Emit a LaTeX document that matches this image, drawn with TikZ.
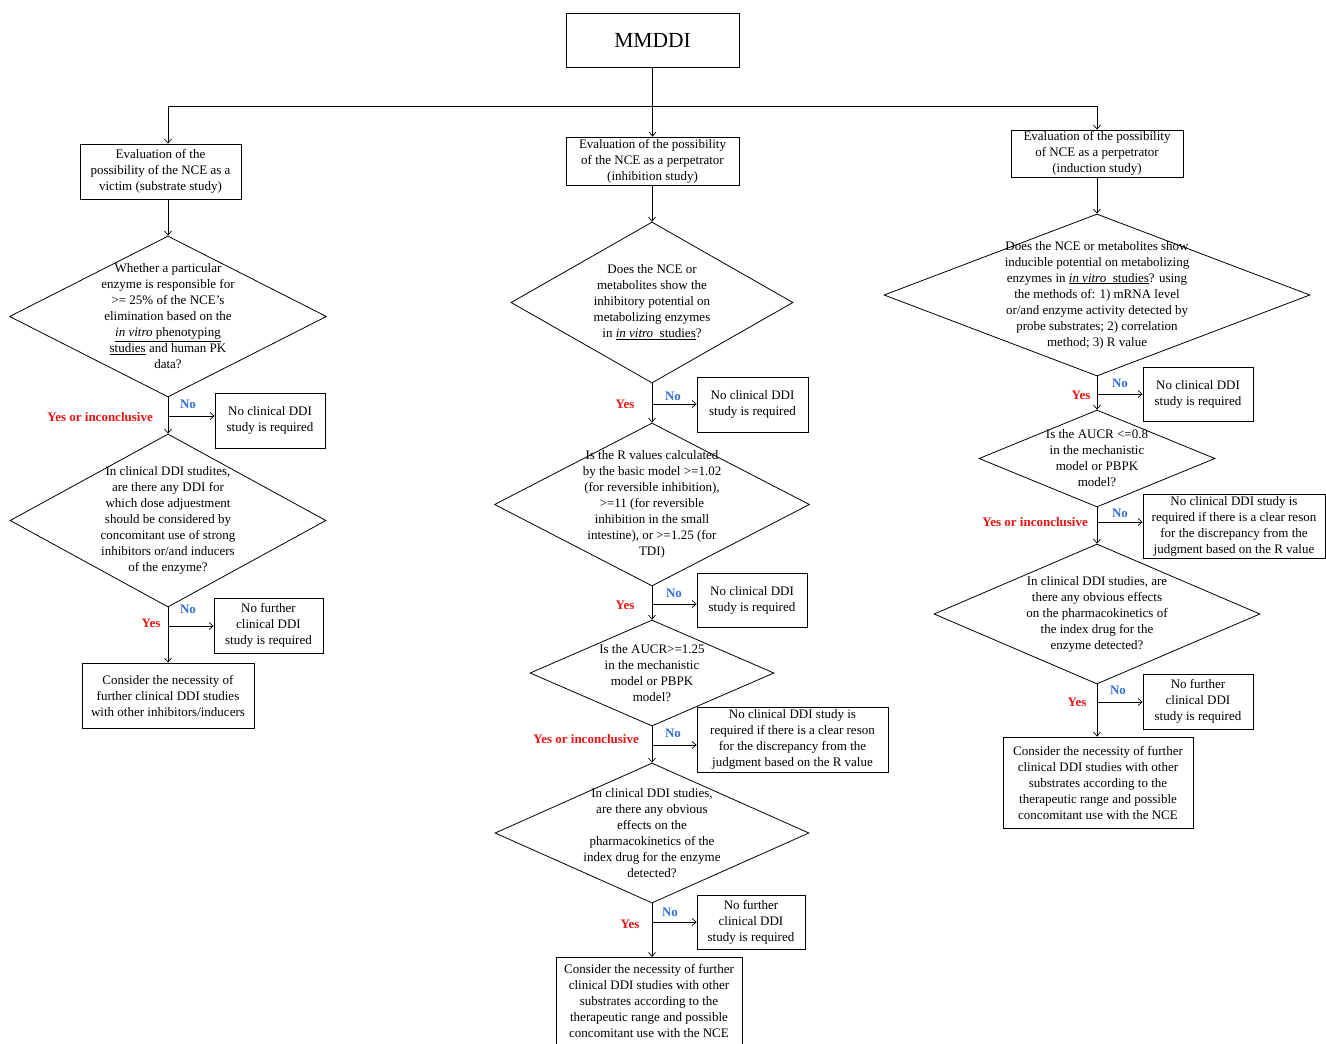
\documentclass[tikz,border=0pt]{standalone}
\usepackage{fontspec}
\setmainfont{Liberation Serif}
\usetikzlibrary{shapes.geometric,arrows.meta,calc}
\definecolor{noblue}{RGB}{50,110,210}
\definecolor{yesred}{RGB}{235,20,20}
\newcommand\txtsz{\fontsize{13}{16}\selectfont}
\begin{document}
\begin{tikzpicture}[x=1pt,y=-1pt,
  box/.style={draw,line width=0.8pt,inner sep=0pt,align=center,font=\txtsz},
  dia/.style={draw,diamond,line width=0.8pt,inner sep=0pt,aspect=1},
  dtxt/.style={align=center,font=\txtsz,inner sep=0pt},
  arr/.style={line width=0.7pt,-{Straight Barb[length=4pt,width=7pt]}},
  ln/.style={line width=0.7pt},
  nolab/.style={text=noblue,font=\bfseries\txtsz,inner sep=0pt},
  yeslab/.style={text=yesred,font=\bfseries\txtsz,inner sep=0pt}]
\useasboundingbox (0,0) rectangle (1326,1044);

% top
\node[box,minimum width=173pt,minimum height=54pt,font=\fontsize{21.5}{24}\selectfont] (top) at (652.5,40) {MMDDI};
\node[box,minimum width=161pt,minimum height=55pt] (A1) at (160.5,171.5) {Evaluation of the\\possibility of the NCE as a\\victim (substrate study)};
\node[box,minimum width=173pt,minimum height=48pt] (B1) at (652.5,161) {Evaluation of the possibility\\of the NCE as a perpetrator\\(inhibition study)};
\node[box,minimum width=172pt,minimum height=47pt] (C1) at (1097,153.5) {Evaluation of the possibility\\of NCE as a perpetrator\\(induction study)};

\coordinate (hl) at (168,106);
\coordinate (hr) at (1097,106);
\draw[ln] (hl) -- (hr);
\draw[arr] (top.south) -- (B1.north);
\draw[arr] (hl) -- (hl |- A1.north);
\draw[arr] (hr) -- (C1.north);

% left column
\node[dia,minimum width=317pt,minimum height=161pt] (D1) at (168,316.5) {};
\node[dtxt] at (D1) {Whether a particular\\enzyme is responsible for\\>= 25\% of the NCE’s\\elimination based on the\\\underline{\textit{in vitro} phenotyping}\\\underline{studies} and human PK\\data?};
\node[dia,minimum width=316pt,minimum height=173pt] (D2) at (168,520.5) {};
\node[dtxt] at (D2) {In clinical DDI studites,\\are there any DDI for\\which dose adjuestment\\should be considered by\\concomitant use of strong\\inhibitors or/and inducers\\of the enzyme?};
\node[box,minimum width=110pt,minimum height=55pt] (N1) at (270,420.5) {No clinical DDI\\study is required};
\node[box,minimum width=109pt,minimum height=55pt] (N2) at (268.5,625.5) {No further\\clinical DDI\\study is required};
\node[box,minimum width=172pt,minimum height=65pt] (F1) at (168,695.5) {Consider the necessity of\\further clinical DDI studies\\with other inhibitors/inducers};

\draw[arr] (D1.north |- A1.south) -- (D1.north);
\draw[arr] (D1.south) -- (D2.north);
\draw[arr] (D2.south) -- (F1.north);
\coordinate (bl1) at (168,416);
\coordinate (bl2) at (168,626);
\draw[arr] (bl1) -- (bl1 -| N1.west);
\draw[arr] (bl2) -- (bl2 -| N2.west);
\node[nolab] (nl1) at (188,404) {No};
\node[yeslab,anchor=east] (yl1) at (153,417) {Yes or inconclusive};
\node[nolab] (nl2) at (188,609) {No};
\node[yeslab] (yl2) at (151,623) {Yes};

% middle column
\node[dia,minimum width=282pt,minimum height=161pt] (M1) at (652,302.5) {};
\node[dtxt] at (M1) {Does the NCE or\\metabolites show the\\inhibitory potential on\\metabolizing enzymes\\in \underline{\textit{in vitro}~ studies}?};
\node[dia,minimum width=315pt,minimum height=163pt] (M2) at (652,504.5) {};
\node[dtxt] at (M2) {Is the R values calculated\\by the basic model >=1.02\\(for reversible inhibition),\\>=11 (for reversible\\inhibition in the small\\intestine), or >=1.25 (for\\TDI)};
\node[dia,minimum width=244pt,minimum height=106pt] (M3) at (652,673) {};
\node[dtxt] at (M3) {Is the AUCR>=1.25\\in the mechanistic\\model or PBPK\\model?};
\node[dia,minimum width=314pt,minimum height=140pt] (M4) at (652,833) {};
\node[dtxt] at (M4) {In clinical DDI studies,\\are there any obvious\\effects on the\\pharmacokinetics of the\\index drug for the enzyme\\detected?};
\node[box,minimum width=111pt,minimum height=55pt] (NM1) at (752.5,404.5) {No clinical DDI\\study is required};
\node[box,minimum width=110pt,minimum height=54pt] (NM2) at (752,600) {No clinical DDI\\study is required};
\node[box,minimum width=191pt,minimum height=65pt] (NM3) at (792.5,739.5) {No clinical DDI study is\\required if there is a clear reson\\for the discrepancy from the\\judgment based on the R value};
\node[box,minimum width=108pt,minimum height=54pt] (NM4) at (751,922) {No further\\clinical DDI\\study is required};
\node[box,minimum width=186pt,minimum height=88pt,anchor=north] (FM) at (649,957) {Consider the necessity of further\\clinical DDI studies with other\\substrates according to the\\therapeutic range and possible\\concomitant use with the NCE};

\draw[arr] (M1.north |- B1.south) -- (M1.north);
\draw[arr] (M1.south) -- (M2.north);
\draw[arr] (M2.south) -- (M3.north);
\draw[arr] (M3.south) -- (M4.north);
\draw[arr] (M4.south) -- (M4.south |- FM.north);
\coordinate (bm1) at (652,404);
\coordinate (bm2) at (652,604);
\coordinate (bm3) at (652,745);
\coordinate (bm4) at (652,922);
\draw[arr] (bm1) -- (bm1 -| NM1.west);
\draw[arr] (bm2) -- (bm2 -| NM2.west);
\draw[arr] (bm3) -- (bm3 -| NM3.west);
\draw[arr] (bm4) -- (bm4 -| NM4.west);
\node[nolab] (nm1) at (673,396) {No};
\node[yeslab] (ym1) at (625,404) {Yes};
\node[nolab] (nm2) at (674,593) {No};
\node[yeslab] (ym2) at (625,605) {Yes};
\node[nolab] (nm3) at (673,733) {No};
\node[yeslab,anchor=east] (ym3) at (639,739) {Yes or inconclusive};
\node[nolab] (nm4) at (670,912) {No};
\node[yeslab] (ym4) at (630,924) {Yes};

% right column
\node[dia,minimum width=426pt,minimum height=162pt] (R1) at (1097,295) {};
\node[dtxt] at (R1) {Does the NCE or metabolites show\\inducible potential on metabolizing\\enzymes in \underline{\textit{in vitro}~ studies}? using\\the methods of: 1) mRNA level\\or/and enzyme activity detected by\\probe substrates; 2) correlation\\method; 3) R value};
\node[dia,minimum width=236pt,minimum height=97pt] (R2) at (1097,458.5) {};
\node[dtxt] at (R2) {Is the AUCR <=0.8\\in the mechanistic\\model or PBPK\\model?};
\node[dia,minimum width=326pt,minimum height=140pt] (R3) at (1097,614) {};
\node[dtxt] at (R3) {In clinical DDI studies, are\\there any obvious effects\\on the pharmacokinetics of\\the index drug for the\\enzyme detected?};
\node[box,minimum width=110pt,minimum height=54pt] (NR1) at (1198,394) {No clinical DDI\\study is required};
\node[box,minimum width=182pt,minimum height=64pt] (NR2) at (1234,526) {No clinical DDI study is\\required if there is a clear reson\\for the discrepancy from the\\judgment based on the R value};
\node[box,minimum width=110pt,minimum height=55pt] (NR3) at (1198,701.5) {No further\\clinical DDI\\study is required};
\node[box,minimum width=190pt,minimum height=91pt] (FR) at (1098,782.5) {Consider the necessity of further\\clinical DDI studies with other\\substrates according to the\\therapeutic range and possible\\concomitant use with the NCE};

\draw[arr] (R1.north |- C1.south) -- (R1.north);
\draw[arr] (R1.south) -- (R2.north);
\draw[arr] (R2.south) -- (R3.north);
\draw[arr] (R3.south) -- (R3.south |- FR.north);
\coordinate (br1) at (1097,394);
\coordinate (br2) at (1097,522);
\coordinate (br3) at (1097,702);
\draw[arr] (br1) -- (br1 -| NR1.west);
\draw[arr] (br2) -- (br2 -| NR2.west);
\draw[arr] (br3) -- (br3 -| NR3.west);
\node[nolab] (nr1) at (1120,383) {No};
\node[yeslab] (yr1) at (1081,395) {Yes};
\node[nolab] (nr2) at (1120,513) {No};
\node[yeslab,anchor=east] (yr2) at (1088,522) {Yes or inconclusive};
\node[nolab] (nr3) at (1118,690) {No};
\node[yeslab] (yr3) at (1077,702) {Yes};
\end{tikzpicture}
\end{document}
